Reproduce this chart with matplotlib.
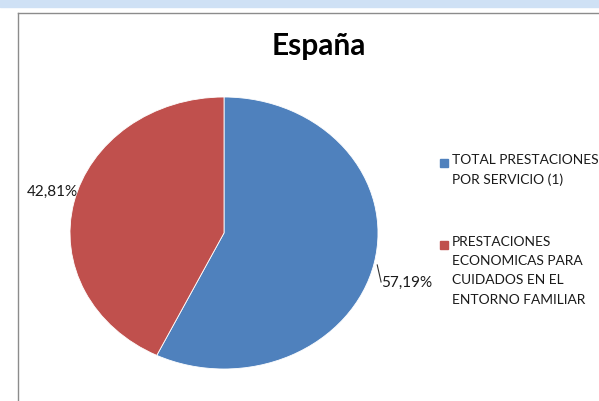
import matplotlib.pyplot as plt
from matplotlib.patches import Rectangle
from matplotlib.lines import Line2D

# Data
categories = ["TOTAL PRESTACIONES\nPOR SERVICIO (1)",
              "PRESTACIONES\nECONOMICAS PARA\nCUIDADOS EN EL\nENTORNO FAMILIAR"]
values = [57.19, 42.81]
colors = ["#4f81bd", "#c0504d"]
title = "España"

W, H = 599, 401
plt.rcParams['font.family'] = ['Lato', 'DejaVu Sans']

fig = plt.figure(figsize=(W / 100, H / 100), dpi=100)


def fx(px):
    return px / W


def fy(py):
    return 1 - py / H


# light blue band at the top and the chart frame
fig.patches.append(Rectangle((0, fy(7)), 1, 1 - fy(7), transform=fig.transFigure,
                             color="#cfe1f5", zorder=0))
fig.lines.append(Line2D([fx(17.5), fx(17.5)], [fy(12.5), 0], transform=fig.transFigure,
                        color="#8c8c8c", lw=1))
fig.lines.append(Line2D([fx(17.5), 1], [fy(12.5), fy(12.5)], transform=fig.transFigure,
                        color="#8c8c8c", lw=1))

# pie (stretched into an ellipse like the original)
left, right, top, bottom = 70, 378, 97, 369
ax = fig.add_axes([fx(left), fy(bottom), fx(right - left), (bottom - top) / H])
wedges, _ = ax.pie(values, colors=colors, startangle=90, counterclock=False,
                   wedgeprops=dict(edgecolor="white", linewidth=0.6))
ax.set_aspect('auto')
ax.set_xlim(-1, 1)
ax.set_ylim(-1, 1)


def fmt(v):
    return f"{v:.2f}".replace(".", ",") + "%"


# data labels
ax.text(-1.117, 0.30, fmt(values[1]), ha="center", va="center", fontsize=11,
        color="#1a1a1a", clip_on=False)
ax.text(1.185, -0.37, fmt(values[0]), ha="center", va="center", fontsize=11,
        color="#1a1a1a", clip_on=False)
ax.plot([0.995, 1.02], [-0.235, -0.36], color="#333333", lw=0.8, clip_on=False)

# title
fig.text(fx(319), fy(46), title, ha="center", va="center", fontsize=21.5,
         fontweight="bold", color="black")

# legend drawn by hand so the markers sit on the first line
legend_y = [163, 245]
for cat, col, y in zip(categories, colors, legend_y):
    fig.patches.append(Rectangle((fx(440), fy(y + 4)), fx(8), 8 / H,
                                 transform=fig.transFigure, color=col))
    fig.text(fx(452), fy(y - 9), cat, ha="left", va="top", fontsize=9.9,
             color="#1a1a1a", linespacing=1.72)

fig.savefig("out.png", dpi=100)
